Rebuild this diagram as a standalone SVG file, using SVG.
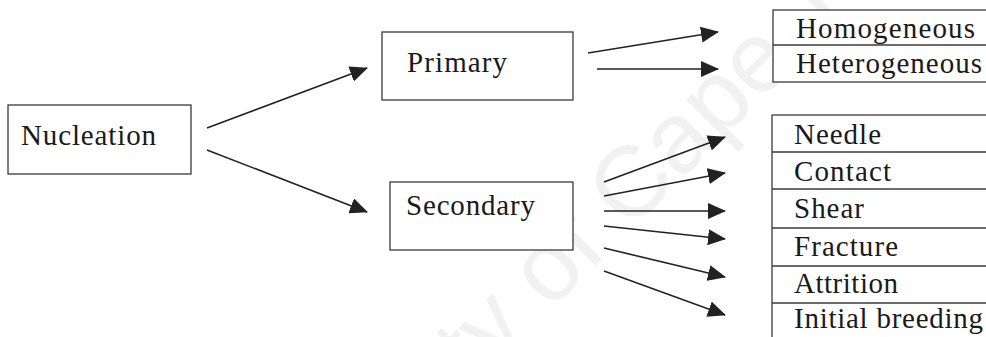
<svg xmlns="http://www.w3.org/2000/svg" width="986" height="337" viewBox="0 0 986 337">
  <style>
    .box { fill: #ffffff; stroke: #3a3a3a; stroke-width: 1.3; }
    .row { fill: none; stroke: #3a3a3a; stroke-width: 1.3; }
    .lbl { font-size: 29px; fill: #1a1a1a; }
    .conn { stroke: #222222; stroke-width: 1.6; fill: none; marker-end: url(#arrow); }
    .wm { font-size: 100px; fill: #f1f1f1; }
  </style>
  <defs>
    <marker id="arrow" viewBox="0 0 18 16" refX="17" refY="8" markerWidth="18" markerHeight="16" markerUnits="userSpaceOnUse" orient="auto">
      <path d="M0,0 L18,8 L0,16 z" fill="#222222"/>
    </marker>
  </defs>
  <rect width="986" height="337" fill="#ffffff"/>

  <text class="wm" font-family="'Liberation Sans', Arial, sans-serif" x="220" y="641" transform="rotate(-45 220 641)">University of Cape Town</text>

  <g font-family="'Liberation Serif', 'Times New Roman', serif">
  <g id="nucleation">
    <rect class="box" x="8" y="105" width="183" height="69"/>
    <text class="lbl" x="21" y="145" textLength="135">Nucleation</text>
  </g>
  <g id="primary">
    <rect class="box" x="382" y="32" width="191" height="68"/>
    <text class="lbl" x="407" y="72" textLength="100">Primary</text>
  </g>
  <g id="secondary">
    <rect class="box" x="390" y="182" width="183" height="68"/>
    <text class="lbl" x="406" y="215" textLength="129">Secondary</text>
  </g>

  <g id="primary-types">
    <rect class="box" x="773" y="10" width="230" height="72"/>
    <line class="row" x1="773" y1="45" x2="1003" y2="45"/>
  </g>
  <g id="homogeneous">
    <text class="lbl" x="796" y="38" textLength="179">Homogeneous</text>
  </g>
  <g id="heterogeneous">
    <text class="lbl" x="796" y="73" textLength="186">Heterogeneous</text>
  </g>

  <g id="secondary-types">
    <rect class="box" x="772" y="115" width="230" height="240"/>
    <line class="row" x1="772" y1="152" x2="1002" y2="152"/>
    <line class="row" x1="772" y1="189" x2="1002" y2="189"/>
    <line class="row" x1="772" y1="228" x2="1002" y2="228"/>
    <line class="row" x1="772" y1="266" x2="1002" y2="266"/>
    <line class="row" x1="772" y1="303" x2="1002" y2="303"/>
  </g>
  <g id="needle"><text class="lbl" x="794" y="144" textLength="87">Needle</text></g>
  <g id="contact"><text class="lbl" x="794" y="181" textLength="97">Contact</text></g>
  <g id="shear"><text class="lbl" x="794" y="218" textLength="70">Shear</text></g>
  <g id="fracture"><text class="lbl" x="794" y="256" textLength="104">Fracture</text></g>
  <g id="attrition"><text class="lbl" x="794" y="293" textLength="104">Attrition</text></g>
  <g id="initial-breeding"><text class="lbl" x="794" y="328" textLength="189">Initial breeding</text></g>
  </g>

  <g id="connectors">
    <line class="conn" x1="207" y1="128" x2="367" y2="68"/>
    <line class="conn" x1="207" y1="150" x2="367" y2="212"/>
    <line class="conn" x1="588" y1="53" x2="718" y2="32"/>
    <line class="conn" x1="597" y1="69" x2="718" y2="69"/>
    <line class="conn" x1="604" y1="182" x2="725" y2="137"/>
    <line class="conn" x1="604" y1="196" x2="725" y2="173"/>
    <line class="conn" x1="604" y1="211" x2="725" y2="211"/>
    <line class="conn" x1="604" y1="226" x2="725" y2="239"/>
    <line class="conn" x1="604" y1="248" x2="725" y2="277"/>
    <line class="conn" x1="604" y1="271" x2="725" y2="315"/>
  </g>
</svg>
